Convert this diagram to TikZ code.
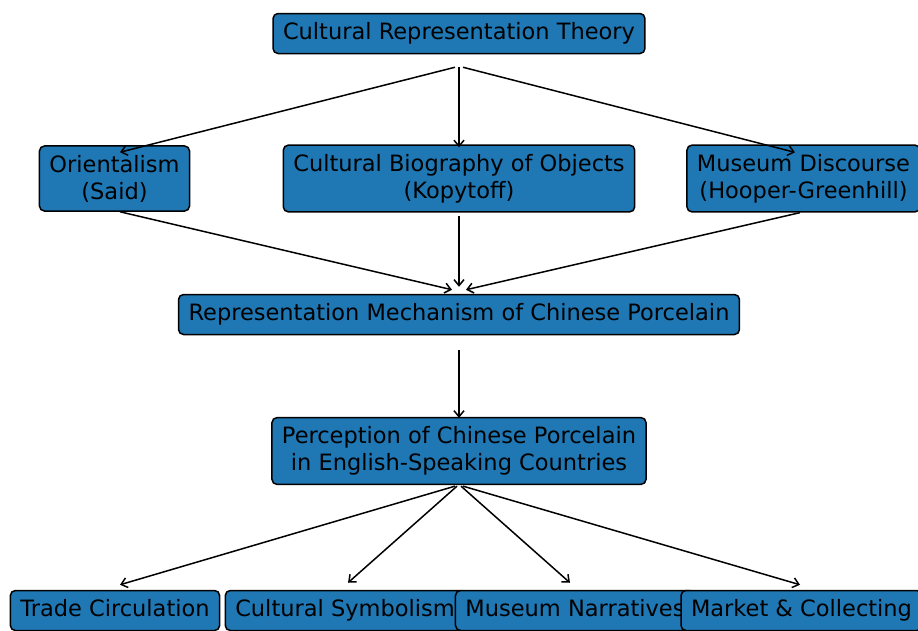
\documentclass[tikz,border=0pt]{standalone}
\usepackage{fontspec}
\setmainfont{DejaVu Sans}
\usetikzlibrary{positioning,calc,arrows.meta}
\definecolor{mplblue}{HTML}{1F77B4}
\tikzset{
  box/.style={draw=black, fill=mplblue, rounded corners=5pt, line width=1.5pt,
    inner xsep=10pt, inner ysep=9pt, align=center,
    font=\fontsize{22.5}{27}\selectfont},
  onebox/.style={box, text height=17pt, text depth=5pt},
  link/.style={->, line width=1.5pt},
}
\begin{document}
\begin{tikzpicture}[x=1pt,y=-1pt,>={Straight Barb[length=6pt,width=10pt]}]
	\useasboundingbox (0,0) rectangle (918,630);
	% theory and the three approaches
	\node[onebox] (theory) at (459,33.5) {Cultural Representation Theory};
	\node[box] (orient) at (114.5,178.5) {Orientalism\\(Said)};
	\node[box] (biog) at (459,178.5) {Cultural Biography of Objects\\(Kopytoff)};
	\node[box] (museum) at (803.5,178.5) {Museum Discourse\\(Hooper-Greenhill)};
	% mechanism and perception
	\node[onebox] (mech) at (459,314.5) {Representation Mechanism of Chinese Porcelain};
	\node[box] (perc) at (459,451) {Perception of Chinese Porcelain\\in English-Speaking Countries};
	% outcomes
	\node[onebox] (trade) at (115,610.5) {Trade Circulation};
	\node[onebox] (symb) at (345,610.5) {Cultural Symbolism};
	\node[onebox] (narr) at (575,610.5) {Museum Narratives};
	\node[onebox] (market) at (801.5,610.5) {Market \& Collecting};
	% hubs where the arrows fan out
	\coordinate (theoryhub) at ([yshift=-13pt]theory.south);
	\coordinate (perchub) at ([yshift=-1pt]perc.south);
	\draw[link] ([xshift=-4pt]theoryhub) -- ([xshift=5.5pt,yshift=-7pt]orient.north);
	\draw[link] (theoryhub) -- ([yshift=-3pt]biog.north);
	\draw[link] ([xshift=4pt]theoryhub) -- ([xshift=-8.5pt,yshift=-8pt]museum.north);
	\draw[link] ([xshift=5.5pt]orient.south) -- ([xshift=-7pt,yshift=4pt]mech.north);
	\draw[link] ([yshift=-3pt]biog.south) -- ([yshift=7pt]mech.north);
	\draw[link] ([xshift=-3.5pt]museum.south) -- ([xshift=7pt,yshift=4pt]mech.north);
	\draw[link] ([yshift=-15pt]mech.south) -- ([yshift=-1pt]perc.north);
	\draw[link] ([xshift=-4pt]perchub) -- ([xshift=5pt,yshift=5pt]trade.north);
	\draw[link] ([xshift=-2pt]perchub) -- ([xshift=3pt,yshift=7pt]symb.north);
	\draw[link] ([xshift=2pt]perchub) -- ([xshift=-5pt,yshift=7pt]narr.north);
	\draw[link] ([xshift=4pt]perchub) -- ([xshift=-1.5pt,yshift=5pt]market.north);
\end{tikzpicture}
\end{document}
